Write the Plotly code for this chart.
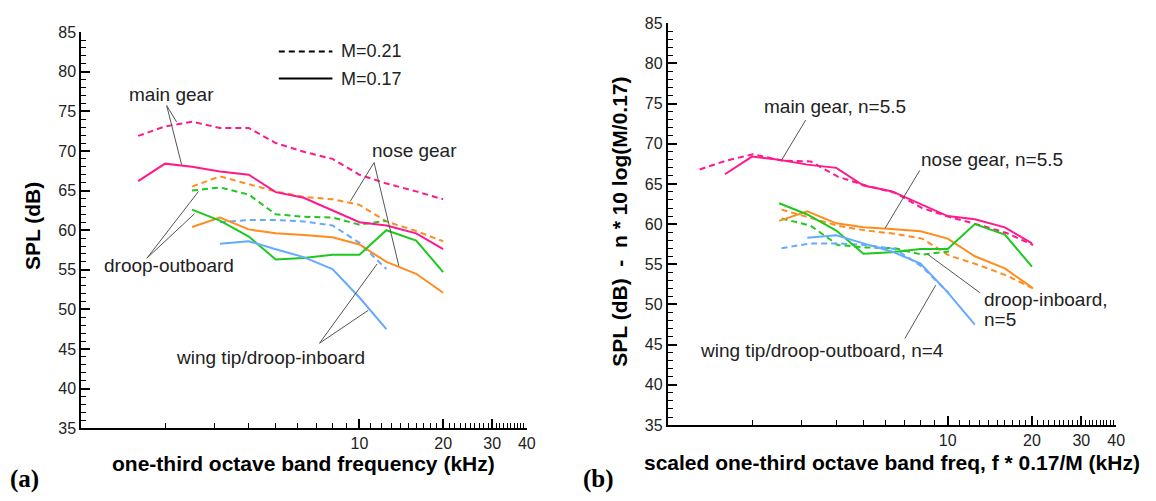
import plotly.graph_objects as go

W, H = 1156, 501

# ---------------- data ----------------
# one-third octave band centre frequencies (kHz), panel (a)
BANDS = [1.6, 2.0, 2.5, 3.15, 4.0, 5.0, 6.3, 8.0, 10.0, 12.5, 16.0, 20.0]

# panel (a) SPL (dB)
MAIN_M017 = [66.2, 68.4, 68.0, 67.4, 67.0, 64.8, 64.1, 62.5, 61.0, 60.6, 59.6, 57.6]
MAIN_M021 = [71.9, 73.1, 73.7, 72.9, 72.9, 71.0, 69.9, 69.0, 67.0, 65.9, 64.9, 63.9]
NOSE_M017 = [None, None, 60.4, 61.6, 60.1, 59.6, 59.4, 59.1, 58.2, 56.0, 54.5, 52.1]
NOSE_M021 = [None, None, 65.5, 66.8, 65.8, 64.9, 64.2, 63.9, 63.2, 61.1, 59.9, 58.6]
GREEN_M017 = [None, None, 62.6, 61.2, 59.2, 56.3, 56.5, 56.9, 56.9, 60.0, 58.7, 54.7]
GREEN_M021 = [None, None, 65.0, 65.4, 64.5, 62.0, 61.7, 61.6, 60.7, 61.2, None, None]
BLUE_M017 = [None, None, None, 58.3, 58.6, 57.6, 56.6, 55.1, 51.5, 47.5, None, None]
BLUE_M021 = [None, None, None, 61.0, 61.3, 61.3, 61.1, 60.6, 58.4, 55.1, None, None]

# panel (b): scaled frequency of the M=0.21 bands (kHz) and scaled SPL
B_BANDS_M021 = [1.30, 1.62, 2.02, 2.55, 3.24, 4.05, 5.10, 6.48, 8.10, 10.1, 12.95, 16.2, 20.2]
B_MAIN_M021 = [66.8, 67.9, 68.7, 67.9, 67.8, 65.9, 64.8, 63.9, 62.0, 60.9, 59.9, 58.9, 57.4]
B_NOSE_M021 = [None, None, None, 61.8, 60.8, 59.8, 59.2, 58.8, 58.2, 56.1, 54.9, 53.6, 52.0]
B_GREEN_M021 = [None, None, None, 60.7, 59.8, 57.4, 57.1, 57.0, 56.2, 56.6, None, None, None]
B_BLUE_M021 = [None, None, None, 57.0, 57.6, 57.6, 57.4, 56.9, 54.7, 51.4, None, None, None]

X_TICKS = [10, 20, 30, 40]
X_TICK_TEXT = ["10", "20", "30", "40"]
X_MINOR = [2, 3, 4, 5, 6, 7, 8, 9] + list(range(11, 20)) + list(range(21, 30)) + list(range(31, 40))

PINK = "rgb(255,25,140)"
ORANGE = "rgb(255,140,30)"
GREEN = "rgb(30,200,30)"
BLUE = "rgb(100,170,255)"
DASH = "6px,4px"
FONT = "Arial, 'Liberation Sans', sans-serif"
TXT = "#222222"


def px(x):
    return x / W


def py(y):
    return 1 - y / H


fig = go.Figure()


def add(xs, ys, color, dashed, xa, ya):
    fig.add_trace(go.Scatter(
        x=xs, y=ys, mode="lines", xaxis=xa, yaxis=ya, showlegend=False,
        line=dict(color=color, width=2, dash=DASH if dashed else "solid"),
        hoverinfo="skip"))


# panel (a)
for ys, c, d in [(MAIN_M021, PINK, True), (NOSE_M021, ORANGE, True), (GREEN_M021, GREEN, True),
                 (BLUE_M021, BLUE, True), (MAIN_M017, PINK, False), (NOSE_M017, ORANGE, False),
                 (GREEN_M017, GREEN, False), (BLUE_M017, BLUE, False)]:
    add(BANDS, ys, c, d, "x", "y")

# panel (b)
for ys, c in [(B_MAIN_M021, PINK), (B_NOSE_M021, ORANGE), (B_GREEN_M021, GREEN), (B_BLUE_M021, BLUE)]:
    add(B_BANDS_M021, ys, c, True, "x2", "y2")
for ys, c in [(MAIN_M017, PINK), (NOSE_M017, ORANGE), (GREEN_M017, GREEN), (BLUE_M017, BLUE)]:
    add(BANDS, ys, c, False, "x2", "y2")


def xaxis(domain, anchor):
    return dict(
        domain=domain, anchor=anchor, type="log", range=[0, 1.60206],
        tickmode="array", tickvals=X_TICKS, ticktext=X_TICK_TEXT,
        ticks="inside", ticklen=9, tickwidth=1.5, tickcolor="black",
        showline=True, linecolor="black", linewidth=2, showgrid=False, zeroline=False,
        tickfont=dict(family=FONT, size=16, color=TXT),
        minor=dict(tickmode="array", tickvals=X_MINOR, ticks="inside", ticklen=5,
                   tickwidth=1, tickcolor="black", showgrid=False),
        fixedrange=True)


def yaxis(domain, anchor):
    return dict(
        domain=domain, anchor=anchor, range=[35, 85], tickmode="linear", tick0=35, dtick=5,
        ticks="inside", ticklen=9, tickwidth=1.5, tickcolor="black",
        showline=True, linecolor="black", linewidth=2, showgrid=False, zeroline=False,
        tickfont=dict(family=FONT, size=16, color=TXT),
        minor=dict(dtick=1, ticks="inside", ticklen=5, tickwidth=1, tickcolor="black", showgrid=False),
        fixedrange=True)


annotations = []
shapes = []


def text(x, y, s, size=19, xanchor="left", bold=False, angle=0, family=FONT, color=TXT):
    annotations.append(dict(
        x=px(x), y=py(y), xref="paper", yref="paper", text=s, showarrow=False,
        xanchor=xanchor, yanchor="middle", textangle=angle, borderpad=0,
        font=dict(family=family, size=size, color=color)))


def leader(x0, y0, x1, y1, color="#555555", width=1, dash="solid"):
    shapes.append(dict(type="line", xref="paper", yref="paper",
                       x0=px(x0), y0=py(y0), x1=px(x1), y1=py(y1),
                       line=dict(color=color, width=width, dash=dash)))


# axis titles
text(306, 471, "<b>one-third octave band frequency (kHz)</b>", size=21, xanchor="center", color="black")
text(899, 470, "<b>scaled one-third octave band freq, f * 0.17/M (kHz)</b>", size=21, xanchor="center", color="black")
text(33, 226, "<b>SPL (dB)</b>", size=21, xanchor="center", angle=-90, color="black")
text(624, 221, "<b>SPL (dB)\u00a0\u00a0-\u00a0\u00a0n * 10 log(M/0.17)</b>", size=21, xanchor="center", angle=-90, color="black")
# panel letters
text(9, 488, "<b>(a)</b>", size=25, family="'Times New Roman', 'Liberation Serif', serif", color="black")
text(587, 488, "<b>(b)</b>", size=25, family="'Times New Roman', 'Liberation Serif', serif", color="black")

# legend (panel a)
leader(281, 45, 335, 45, color="black", width=2, dash=DASH)
leader(281, 73, 335, 73, color="black", width=2)
text(343, 45, "M=0.21", size=18)
text(343, 73, "M=0.17", size=18)

# panel (a) labels
text(129, 90, "main gear")
leader(168, 101, 183, 162)
leader(168, 101, 178, 118)
text(374, 147, "nose gear")
leader(377, 160, 353, 200)
leader(377, 160, 402, 267)
text(104, 267, "droop-outboard")
leader(148, 259, 200, 190)
leader(148, 259, 196, 213)
text(176, 362, "wing tip/droop-inboard")
leader(322, 347, 380, 265)
leader(322, 347, 371, 313)

# panel (b) labels
text(769, 102, "main gear, n=5.5")
leader(812, 116, 788, 157)
text(927, 157, "nose gear, n=5.5")
leader(927, 168, 892, 228)
text(991, 302, "droop-inboard,")
text(991, 322, "n=5")
leader(988, 295, 935, 255)
text(704, 355, "wing tip/droop-outboard, n=4")
leader(912, 342, 943, 287)

fig.update_layout(
    width=W, height=H, margin=dict(l=0, r=0, t=0, b=0),
    paper_bgcolor="white", plot_bgcolor="white",
    xaxis=xaxis([82 / W, 531 / W], "y"),
    yaxis=yaxis([(H - 435) / H, (H - 25) / H], "x"),
    xaxis2=xaxis([673 / W, 1125 / W], "y2"),
    yaxis2=yaxis([(H - 431.7) / H, (H - 15.7) / H], "x2"),
    annotations=annotations, shapes=shapes,
)

fig.write_html("out.html")
